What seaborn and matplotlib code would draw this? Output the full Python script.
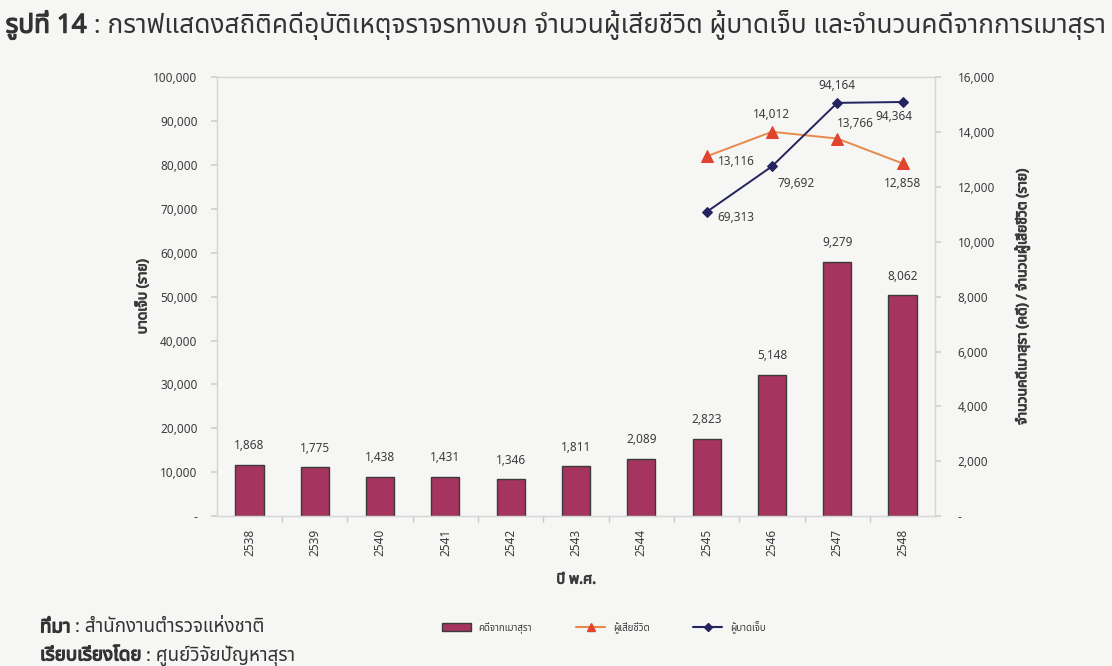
import numpy as np
import pandas as pd
import matplotlib
matplotlib.use("Agg")
import matplotlib.pyplot as plt
import matplotlib.patheffects as pe
from matplotlib import font_manager
from matplotlib.ft2font import FT2Font
from matplotlib.patches import Patch
from matplotlib.lines import Line2D
from matplotlib.ticker import FuncFormatter, MultipleLocator
import seaborn as sns

# ---- data -------------------------------------------------------------
years = [2538, 2539, 2540, 2541, 2542, 2543, 2544, 2545, 2546, 2547, 2548]
drunk_cases = [1868, 1775, 1438, 1431, 1346, 1811, 2089, 2823, 5148, 9279, 8062]
line_years = [2545, 2546, 2547, 2548]
deaths = [13116, 14012, 13766, 12858]
injuries = [69313, 79692, 94164, 94364]

bar_name = "คดีจากเมาสุรา"
death_name = "ผู้เสียชีวิต"
injury_name = "ผู้บาดเจ็บ"

# ---- fonts: pick a family that covers Thai ------------------------------
def thai_family():
    found = []
    for f in font_manager.fontManager.ttflist:
        try:
            if 0x0E01 in FT2Font(f.fname).get_charmap():
                found.append(f.name)
        except Exception:
            pass
    found = sorted(set(found))
    for pref in ("Noto Sans Thai", "Noto Sans Thai UI", "Loma", "Garuda", "Tlwg"):
        for name in found:
            if name.startswith(pref):
                return name
    return found[0] if found else None

sns.set_theme(style="white")
tf = thai_family()
families = ([tf] if tf else []) + ["DejaVu Sans"]
plt.rcParams["font.family"] = families

BG = "#f6f6f4"
BAR = "#a5345f"
NAVY = "#24245e"
RED = "#e0432e"
ORANGE = "#e8894a"
TXT = "#3c3c3c"

# heavier strokes for headings (the Thai face ships a single weight)
def heavy(color, w=0.7):
    return [pe.withStroke(linewidth=w, foreground=color)]

fig = plt.figure(figsize=(11.12, 6.66), dpi=100, facecolor=BG)
ax = fig.add_axes([0.195, 0.225, 0.646, 0.659])
ax.set_facecolor(BG)
ax2 = ax.twinx()

# bars: drunk-driving cases on the right axis
sns.barplot(x=years, y=drunk_cases, native_scale=True, width=0.43,
            color=BAR, edgecolor="#3a3a3a", linewidth=1.0, saturation=1,
            ax=ax2, zorder=2)

# deaths on the right axis
sns.lineplot(x=line_years, y=deaths, ax=ax2, color=ORANGE, linewidth=1.4,
             marker="^", markersize=8, markerfacecolor=RED,
             markeredgecolor=RED, zorder=4)

# injuries on the left axis
sns.lineplot(x=line_years, y=injuries, ax=ax, color=NAVY, linewidth=1.4,
             marker="D", markersize=5.5, markerfacecolor=NAVY,
             markeredgecolor=NAVY, zorder=4)
ax.set_zorder(ax2.get_zorder() + 1)
ax.patch.set_visible(False)
ax2.patch.set_visible(True)
ax2.set_facecolor(BG)

# ---- scales & ticks ---------------------------------------------------
ax.set_xlim(years[0] - 0.5, years[-1] + 0.5)
ax.set_ylim(0, 100000)
ax2.set_ylim(0, 16000)
ax.yaxis.set_major_locator(MultipleLocator(10000))
ax2.yaxis.set_major_locator(MultipleLocator(2000))

def thousands(v, pos):
    return "-" if v == 0 else f"{int(v):,}"

ax.yaxis.set_major_formatter(FuncFormatter(thousands))
ax2.yaxis.set_major_formatter(FuncFormatter(thousands))

ax.set_xticks(years)
ax.set_xticklabels([str(y) for y in years], rotation=90)
ax.set_xticks([y + 0.5 for y in years[:-1]], minor=True)
ax.tick_params(axis="x", which="major", length=0, pad=9, labelsize=8.5,
               colors=TXT)
ax.tick_params(axis="x", which="minor", length=4, color="#c8c8c8",
               direction="out", bottom=True)
ax.tick_params(axis="y", length=4, color="#d0d0d0", labelsize=8.5,
               labelcolor=TXT, left=True, pad=10)
ax2.tick_params(axis="y", length=4, color="#d0d0d0", labelsize=8.5,
                labelcolor=TXT, right=True, pad=12)

for a in (ax, ax2):
    for s in a.spines.values():
        s.set_color("#d6d6d6")
        s.set_linewidth(0.9)
    a.grid(False)

ax.set_xlabel("ปี พ.ศ.", fontsize=10.5, color=TXT, labelpad=12,
              path_effects=heavy(TXT))
ax.set_ylabel("บาดเจ็บ (ราย)", fontsize=10, color=TXT, labelpad=2,
              path_effects=heavy(TXT))
ax2.set_ylabel("จำนวนคดีเมาสุรา (คดี) / จำนวนผู้เสียชีวิต (ราย)",
               fontsize=10, color=TXT, rotation=90, labelpad=14,
               path_effects=heavy(TXT))

# ---- value labels -----------------------------------------------------
for x, v in zip(years, drunk_cases):
    ax2.annotate(f"{v:,}", (x, v), xytext=(0, 9), textcoords="offset points",
                 ha="center", va="bottom", fontsize=8.5, color=TXT)

death_off = [(8, -4, "left", "center"), (0, 8, "center", "bottom"),
             (0, 6, "left", "bottom"), (0, -10, "center", "top")]
for x, v, (dx, dy, ha, va) in zip(line_years, deaths, death_off):
    ax2.annotate(f"{v:,}", (x, v), xytext=(dx, dy), textcoords="offset points",
                 ha=ha, va=va, fontsize=8.5, color=TXT)

inj_off = [(8, -4, "left", "center"), (4, -8, "left", "top"),
           (0, 8, "center", "bottom"), (-6, -6, "center", "top")]
for x, v, (dx, dy, ha, va) in zip(line_years, injuries, inj_off):
    ax.annotate(f"{v:,}", (x, v), xytext=(dx, dy), textcoords="offset points",
                ha=ha, va=va, fontsize=8.5, color=TXT)

# ---- legend -----------------------------------------------------------
handles = [
    Patch(facecolor=BAR, edgecolor="#3a3a3a", label=bar_name),
    Line2D([0], [0], color=ORANGE, marker="^", markerfacecolor=RED,
           markeredgecolor=RED, markersize=6, label=death_name),
    Line2D([0], [0], color=NAVY, marker="D", markerfacecolor=NAVY,
           markeredgecolor=NAVY, markersize=4, label=injury_name),
]
fig.legend(handles=handles, loc="center", bbox_to_anchor=(0.543, 0.058),
           ncol=3, frameon=False, fontsize=7, handlelength=3.0,
           handleheight=0.9, handletextpad=0.8, columnspacing=4.5,
           labelcolor=TXT)

# ---- title and notes --------------------------------------------------
fig.canvas.draw()
renderer = fig.canvas.get_renderer()

def two_part(x, y, bold, rest, size):
    t = fig.text(x, y, bold, fontsize=size, color="#333333",
                 ha="left", va="center", path_effects=heavy("#333333", 0.9))
    bb = t.get_window_extent(renderer=renderer)
    fig.text(bb.x1 / fig.bbox.width, y, rest, fontsize=size, color="#333333",
             ha="left", va="center")

two_part(0.005, 0.963, "รูปที่ 14",
         " : กราฟแสดงสถิติคดีอุบัติเหตุจราจรทางบก จำนวนผู้เสียชีวิต ผู้บาดเจ็บ และจำนวนคดีจากการเมาสุรา",
         18.8)
two_part(0.036, 0.058, "ที่มา", " : สำนักงานตำรวจแห่งชาติ", 13.5)
two_part(0.036, 0.016, "เรียบเรียงโดย", " : ศูนย์วิจัยปัญหาสุรา", 13.5)

fig.savefig("out.png", dpi=100, facecolor=BG)
